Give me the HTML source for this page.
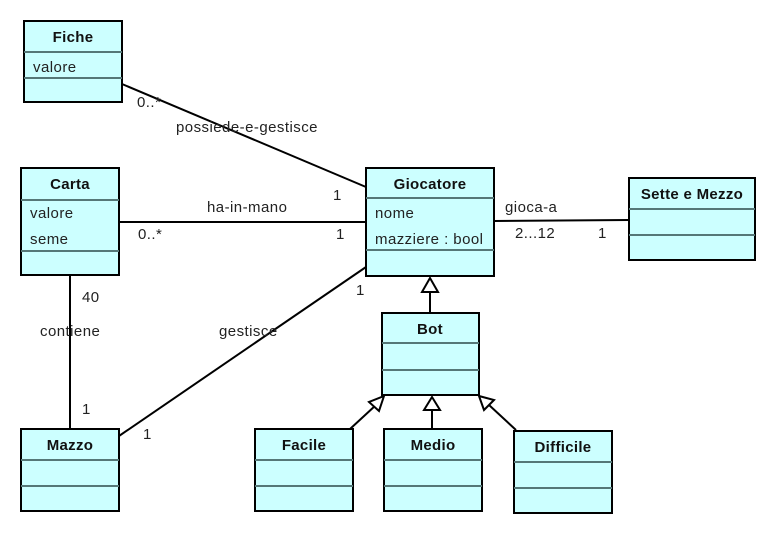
<!DOCTYPE html>
<html><head><meta charset="utf-8"><style>
html,body{margin:0;padding:0;background:#fff;width:776px;height:534px;overflow:hidden}
text{font-family:"Liberation Sans",sans-serif;font-size:15px;letter-spacing:0.45px;fill:#222}
.b{font-weight:bold;fill:#111;letter-spacing:0.3px}
.box{fill:#ccffff;stroke:#000;stroke-width:2}
.sep{stroke:#557777;stroke-width:2}
.ln{stroke:#000;stroke-width:2;fill:none}
.tri{fill:#fff;stroke:#000;stroke-width:2}
</style></head><body>
<svg width="776" height="534" xmlns="http://www.w3.org/2000/svg">
<line class="ln" x1="122" y1="84" x2="366" y2="187"/>
<line class="ln" x1="119" y1="222" x2="366" y2="222"/>
<line class="ln" x1="494" y1="221" x2="629" y2="220"/>
<line class="ln" x1="70" y1="275" x2="70" y2="429"/>
<line class="ln" x1="119" y1="436" x2="366" y2="267"/>
<line class="ln" x1="430" y1="292" x2="430" y2="313"/>
<polygon class="tri" points="430,278 422,292 438,292"/>
<line class="ln" x1="350" y1="429" x2="376" y2="405"/>
<polygon class="tri" points="384,396 369,402 379,411"/>
<line class="ln" x1="432" y1="429" x2="432" y2="410"/>
<polygon class="tri" points="432,397 424,410 440,410"/>
<line class="ln" x1="516" y1="430" x2="489" y2="405"/>
<polygon class="tri" points="479,396 484,410 494,400"/>

<rect class="box" x="24" y="21" width="98" height="81"/>
<line class="sep" x1="24" y1="52" x2="122" y2="52"/><line class="sep" x1="24" y1="78" x2="122" y2="78"/>
<text class="b" x="73" y="42" text-anchor="middle">Fiche</text>
<text x="33" y="72">valore</text>

<rect class="box" x="21" y="168" width="98" height="107"/>
<line class="sep" x1="21" y1="200" x2="119" y2="200"/><line class="sep" x1="21" y1="251" x2="119" y2="251"/>
<text class="b" x="70" y="189" text-anchor="middle">Carta</text>
<text x="30" y="218">valore</text><text x="30" y="244">seme</text>

<rect class="box" x="366" y="168" width="128" height="108"/>
<line class="sep" x1="366" y1="198" x2="494" y2="198"/><line class="sep" x1="366" y1="250" x2="494" y2="250"/>
<text class="b" x="430" y="189" text-anchor="middle">Giocatore</text>
<text x="375" y="218">nome</text><text x="375" y="244">mazziere : bool</text>

<rect class="box" x="629" y="178" width="126" height="82"/>
<line class="sep" x1="629" y1="209" x2="755" y2="209"/><line class="sep" x1="629" y1="235" x2="755" y2="235"/>
<text class="b" x="692" y="199" text-anchor="middle">Sette e Mezzo</text>

<rect class="box" x="382" y="313" width="97" height="82"/>
<line class="sep" x1="382" y1="343" x2="479" y2="343"/><line class="sep" x1="382" y1="370" x2="479" y2="370"/>
<text class="b" x="430" y="334" text-anchor="middle">Bot</text>

<rect class="box" x="21" y="429" width="98" height="82"/>
<line class="sep" x1="21" y1="460" x2="119" y2="460"/><line class="sep" x1="21" y1="486" x2="119" y2="486"/>
<text class="b" x="70" y="450" text-anchor="middle">Mazzo</text>

<rect class="box" x="255" y="429" width="98" height="82"/>
<line class="sep" x1="255" y1="460" x2="353" y2="460"/><line class="sep" x1="255" y1="486" x2="353" y2="486"/>
<text class="b" x="304" y="450" text-anchor="middle">Facile</text>

<rect class="box" x="384" y="429" width="98" height="82"/>
<line class="sep" x1="384" y1="460" x2="482" y2="460"/><line class="sep" x1="384" y1="486" x2="482" y2="486"/>
<text class="b" x="433" y="450" text-anchor="middle">Medio</text>

<rect class="box" x="514" y="431" width="98" height="82"/>
<line class="sep" x1="514" y1="462" x2="612" y2="462"/><line class="sep" x1="514" y1="488" x2="612" y2="488"/>
<text class="b" x="563" y="452" text-anchor="middle">Difficile</text>

<text x="137" y="107">0..*</text>
<text x="176" y="132">possiede-e-gestisce</text>
<text x="333" y="200">1</text>
<text x="207" y="212">ha-in-mano</text>
<text x="138" y="239">0..*</text>
<text x="336" y="239">1</text>
<text x="505" y="212">gioca-a</text>
<text x="515" y="238">2...12</text>
<text x="598" y="238">1</text>
<text x="356" y="295">1</text>
<text x="82" y="302">40</text>
<text x="40" y="336">contiene</text>
<text x="219" y="336">gestisce</text>
<text x="82" y="414">1</text>
<text x="143" y="439">1</text>
</svg>
</body></html>
